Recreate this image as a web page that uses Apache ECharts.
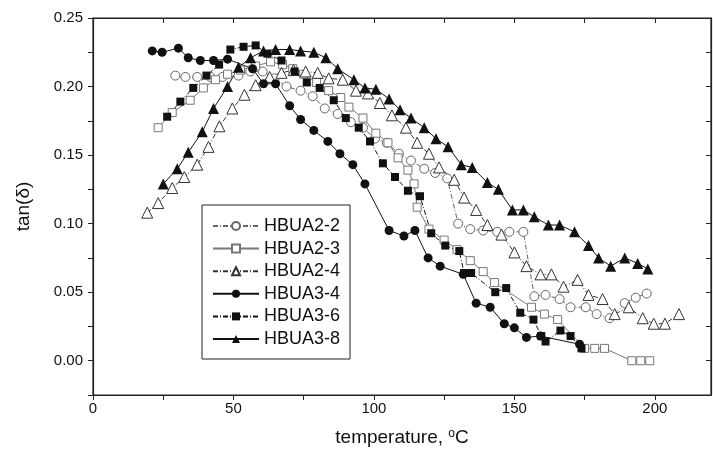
<!DOCTYPE html>
<html>
<head>
<meta charset="utf-8">
<script src="https://cdn.jsdelivr.net/npm/echarts@6/dist/echarts.min.js"></script>
<style>
  html, body { margin: 0; padding: 0; background: #fff; }
  #chart { width: 713px; height: 457px; }
</style>
</head>
<body>
<div id="chart"></div>
<script>
// [temperature (°C), tan(delta)]
const hbua22 = [[29.3,0.208],[32.9,0.207],[37.1,0.207],[41.8,0.207],[46.1,0.207],[51.8,0.208],[56.0,0.211],[60.4,0.211],[64.6,0.206],[68.9,0.200],[73.9,0.197],[78.2,0.193],[82.5,0.184],[87.1,0.180],[91.8,0.174],[96.1,0.170],[100.4,0.162],[104.6,0.159],[108.9,0.151],[113.2,0.146],[117.9,0.140],[121.8,0.137],[126.1,0.133],[130.0,0.100],[134.3,0.096],[138.9,0.095],[143.9,0.094],[148.2,0.094],[153.2,0.094],[157.1,0.047],[161.1,0.048],[166.1,0.045],[170.0,0.039],[175.4,0.039],[179.3,0.034],[183.9,0.031],[189.3,0.042],[193.2,0.046],[197.1,0.049]];
const hbua23 = [[23.2,0.170],[28.2,0.181],[34.6,0.190],[39.3,0.199],[43.6,0.205],[47.9,0.209],[52.5,0.212],[57.9,0.215],[63.2,0.218],[67.5,0.216],[71.1,0.213],[75.0,0.209],[79.6,0.203],[83.9,0.197],[88.2,0.192],[91.1,0.185],[96.1,0.177],[100.7,0.166],[105.0,0.159],[108.6,0.148],[112.1,0.139],[114.3,0.129],[115.4,0.112],[119.6,0.096],[125.0,0.088],[129.6,0.081],[134.3,0.073],[138.9,0.065],[142.9,0.057],[156.1,0.039],[160.7,0.034],[165.4,0.030],[175.0,0.009],[178.6,0.009],[182.1,0.009],[191.8,0.000],[195.0,0.000],[198.2,0.000]];
const hbua24 = [[19.3,0.108],[23.2,0.115],[28.2,0.126],[32.5,0.134],[37.1,0.143],[41.1,0.156],[45.0,0.171],[49.6,0.184],[53.9,0.194],[57.9,0.201],[62.9,0.207],[67.1,0.210],[71.4,0.212],[75.7,0.211],[80.0,0.210],[83.9,0.206],[88.9,0.205],[93.6,0.197],[97.9,0.195],[102.1,0.188],[106.4,0.179],[111.4,0.170],[115.4,0.159],[119.6,0.151],[123.2,0.141],[128.6,0.132],[132.1,0.119],[136.4,0.110],[140.4,0.099],[145.4,0.092],[150.0,0.079],[154.3,0.069],[159.3,0.063],[163.2,0.063],[167.5,0.054],[172.5,0.059],[176.4,0.048],[181.4,0.045],[185.7,0.034],[190.7,0.039],[195.7,0.031],[199.6,0.027],[203.6,0.027],[208.6,0.034]];
const hbua34 = [[21.1,0.226],[24.6,0.225],[30.4,0.228],[33.9,0.221],[38.2,0.219],[42.9,0.219],[47.9,0.220],[56.8,0.213],[60.7,0.202],[65.0,0.202],[70.0,0.186],[73.9,0.176],[78.6,0.168],[83.6,0.160],[87.9,0.151],[92.5,0.143],[96.8,0.129],[105.4,0.095],[110.7,0.091],[114.6,0.095],[119.3,0.075],[123.6,0.069],[131.8,0.063],[136.4,0.042],[141.4,0.039],[146.4,0.027],[150.0,0.024],[154.3,0.017],[159.3,0.018],[173.2,0.012]];
const hbua36 = [[26.4,0.178],[31.1,0.189],[35.7,0.199],[40.4,0.208],[44.9,0.216],[48.9,0.227],[53.6,0.229],[57.9,0.230],[62.1,0.224],[67.1,0.219],[71.8,0.211],[76.1,0.203],[80.7,0.199],[85.7,0.190],[90.0,0.177],[94.6,0.170],[98.6,0.160],[103.2,0.144],[107.5,0.134],[112.1,0.124],[116.4,0.120],[120.4,0.093],[125.4,0.084],[130.4,0.080],[132.1,0.064],[134.6,0.064],[143.2,0.050],[147.1,0.053],[152.1,0.035],[156.8,0.030],[159.6,0.018],[161.1,0.014],[166.4,0.022],[170.0,0.018],[173.9,0.009]];
const hbua38 = [[25.0,0.129],[30.0,0.140],[33.9,0.152],[38.9,0.167],[42.9,0.184],[47.9,0.200],[51.8,0.214],[56.1,0.221],[60.7,0.226],[65.0,0.227],[70.0,0.227],[73.9,0.226],[78.6,0.225],[82.9,0.221],[87.1,0.213],[92.9,0.205],[96.8,0.199],[100.7,0.198],[105.4,0.191],[109.3,0.183],[113.2,0.177],[117.9,0.170],[122.1,0.162],[126.4,0.156],[131.1,0.143],[135.0,0.141],[140.4,0.130],[144.3,0.125],[149.3,0.110],[153.2,0.110],[157.1,0.105],[162.1,0.099],[166.1,0.099],[171.4,0.094],[176.4,0.084],[180.0,0.075],[184.3,0.069],[189.3,0.075],[193.9,0.071],[197.5,0.067]];

const xMin = 0, xMax = 220, yMin = -0.025, yMax = 0.25;
const font = "'Liberation Sans', Arial, sans-serif";
const dashDot = [5, 2, 1, 2];

const chart = echarts.init(document.getElementById('chart'));

const mkSeries = (name, data, symbol, filled, lineType, color, size) => ({
    name: name,
    type: 'line',
    data: data,
    symbol: symbol,
    symbolSize: size,
    showAllSymbol: true,
    animation: false,
    lineStyle: { color: color, width: 1, type: lineType },
    itemStyle: {
        color: filled ? '#111' : '#fff',
        borderColor: color,
        borderWidth: filled ? 0 : 1
    },
    emphasis: { disabled: true }
});

const frameLine = { show: true, onZero: false, lineStyle: { color: '#222', width: 1.2 } };

chart.setOption({
    backgroundColor: '#fff',
    textStyle: { fontFamily: font },
    grid: { left: 93, right: 2, top: 18, bottom: 62, show: true, borderColor: '#222', borderWidth: 1.2 },
    legend: {
        orient: 'vertical',
        left: 202,
        top: 205,
        padding: [12, 10, 11, 10],
        borderColor: '#222',
        borderWidth: 1,
        itemWidth: 46,
        itemHeight: 10,
        itemGap: 4.6,
        textStyle: { fontSize: 18, color: '#111', lineHeight: 18, fontFamily: font },
        data: ['HBUA2-2', 'HBUA2-3', 'HBUA2-4', 'HBUA3-4', 'HBUA3-6', 'HBUA3-8']
    },
    xAxis: [{
        type: 'value', min: xMin, max: xMax, interval: 25,
        axisLine: frameLine,
        splitLine: { show: false },
        name: 'temperature, {sup|o}C',
        nameLocation: 'middle',
        nameGap: 33,
        nameTextStyle: {
            fontSize: 19, color: '#111', fontFamily: font,
            rich: { sup: { fontSize: 12, verticalAlign: 'top', padding: [0, 0, 8, 0], color: '#111' } }
        },
        axisTick: { show: true, inside: false, length: 5, lineStyle: { color: '#222' } },
        axisLabel: {
            fontSize: 15, color: '#111', margin: 6, showMaxLabel: false,
            formatter: v => (v % 50 === 0 ? String(v) : '')
        }
    }, {
        type: 'value', min: xMin, max: xMax, interval: 25, position: 'top',
        axisLine: frameLine,
        splitLine: { show: false },
        axisTick: { show: true, inside: true, length: 5, lineStyle: { color: '#222' } },
        axisLabel: { show: false }
    }],
    yAxis: [{
        type: 'value', min: yMin, max: yMax, interval: 0.025,
        axisLine: frameLine,
        splitLine: { show: false },
        name: 'tan(δ)',
        nameLocation: 'middle',
        nameGap: 60,
        nameTextStyle: { fontSize: 19, color: '#111', fontFamily: font },
        axisTick: { show: true, inside: false, length: 5, lineStyle: { color: '#222' } },
        axisLabel: {
            fontSize: 15, color: '#111', margin: 10,
            formatter: v => {
                const k = Math.round(v / 0.025);
                return (k % 2 === 0 && k >= 0) ? v.toFixed(2) : '';
            }
        }
    }, {
        type: 'value', min: yMin, max: yMax, interval: 0.025, position: 'right',
        axisLine: frameLine,
        splitLine: { show: false },
        axisTick: { show: true, inside: true, length: 5, lineStyle: { color: '#222' } },
        axisLabel: { show: false }
    }],
    series: [
        mkSeries('HBUA2-2', hbua22, 'circle', false, dashDot, '#666', 9),
        mkSeries('HBUA2-3', hbua23, 'rect', false, 'solid', '#777', 8),
        mkSeries('HBUA2-4', hbua24, 'triangle', false, dashDot, '#333', 11),
        mkSeries('HBUA3-4', hbua34, 'circle', true, 'solid', '#111', 9),
        mkSeries('HBUA3-6', hbua36, 'rect', true, dashDot, '#111', 8),
        mkSeries('HBUA3-8', hbua38, 'triangle', true, 'solid', '#111', 11)
    ]
});

window.addEventListener('resize', () => chart.resize());
</script>
</body>
</html>
